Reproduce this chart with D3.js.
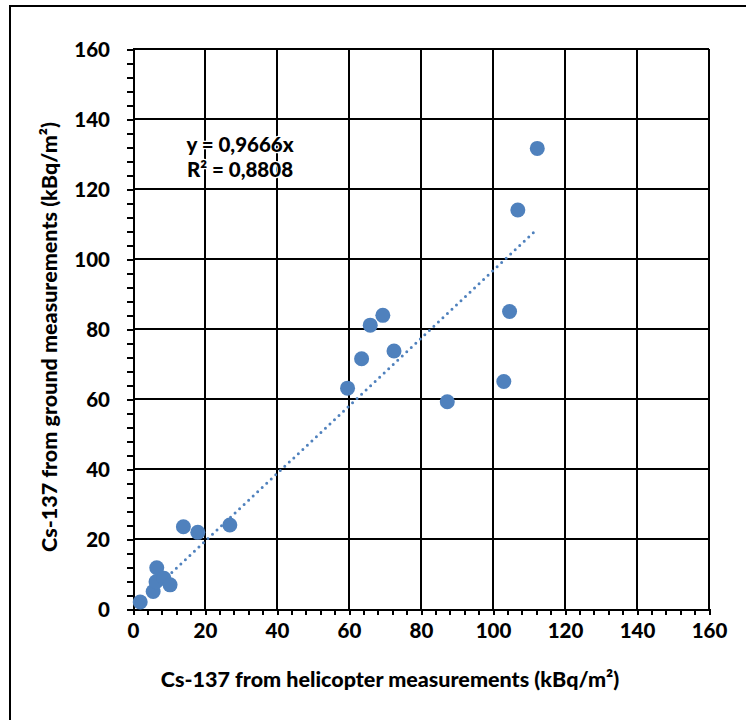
<!doctype html>
<html>

<head>
    <meta charset="utf-8">
    <title>Cs-137</title>
    <style>
    body {
        margin: 0;
        background: #fff;
        font-family: Lato, "Open Sans", sans-serif;
        font-weight: 900;
    }

    .axis path,
    .axis line {
        stroke: #000;
        stroke-width: 2px;
        shape-rendering: crispEdges;
    }

    .axis text {
        font-family: Lato, sans-serif;
        font-weight: 900;
        font-size: 20.5px;
        fill: #000;
    }

    .grid line {
        stroke: #000;
        stroke-width: 2px;
        shape-rendering: crispEdges;
    }

    .dot {
        fill: #4f81bd;
    }

    .trend {
        fill: none;
        stroke: #4f81bd;
        stroke-width: 3px;
        stroke-linecap: round;
        stroke-dasharray: 0 6.2;
    }
    </style>
    <script src="https://cdn.jsdelivr.net/npm/d3@7"></script>
</head>

<body>
    <script>
    // helicopter (x) vs ground (y), kBq/m2
    var heli = [2, 5.6, 6.4, 6.6, 8.6, 10.3, 14, 18, 26.9, 59.6, 63.5, 65.9, 69.4, 72.5, 87.3, 103, 104.6, 106.9, 112.3];
    var ground = [2, 5, 7.8, 11.8, 8.8, 6.9, 23.5, 21.9, 24, 63.1, 71.5, 81.1, 83.9, 73.7, 59.2, 65, 85, 114, 131.6];
    var slope = 0.9666;
    var eqLines = ["y = 0,9666x", "R² = 0,8808"];
    var ticks = [0, 20, 40, 60, 80, 100, 120, 140, 160];
    var minorTicks = d3.range(0, 161, 4);

    var data = heli.map(function(d, i) { return { x: d, y: ground[i] }; });

    var W = 746, H = 720;
    var plotL = 133, plotR = 709, plotT = 49, plotB = 609;

    var x = d3.scaleLinear().domain([0, 160]).range([plotL, plotR]);
    var y = d3.scaleLinear().domain([0, 160]).range([plotB, plotT]);

    var svg = d3.select("body").append("svg")
        .attr("width", W)
        .attr("height", H);

    // outer frame (runs off the right / bottom edge)
    svg.append("rect")
        .attr("x", 10).attr("y", 6)
        .attr("width", W + 20).attr("height", H + 20)
        .attr("fill", "none")
        .attr("stroke", "#000")
        .attr("stroke-width", 2);

    var grid = svg.append("g").attr("class", "grid");
    grid.selectAll(".gx").data(ticks.slice(1)).enter().append("line")
        .attr("x1", function(d) { return x(d); })
        .attr("x2", function(d) { return x(d); })
        .attr("y1", y(0)).attr("y2", y(160));
    grid.selectAll(".gy").data(ticks.slice(1)).enter().append("line")
        .attr("y1", function(d) { return y(d); })
        .attr("y2", function(d) { return y(d); })
        .attr("x1", x(0)).attr("x2", x(160));

    // minor ticks
    svg.append("g")
        .attr("class", "axis")
        .attr("transform", "translate(0," + y(0) + ")")
        .call(d3.axisBottom(x).tickValues(minorTicks).tickSize(6).tickFormat(""))
        .select(".domain").remove();
    svg.append("g")
        .attr("class", "axis")
        .attr("transform", "translate(" + x(0) + ",0)")
        .call(d3.axisLeft(y).tickValues(minorTicks).tickSize(6).tickFormat(""))
        .select(".domain").remove();

    svg.append("g")
        .attr("class", "axis")
        .attr("transform", "translate(0," + y(0) + ")")
        .call(d3.axisBottom(x).tickValues(ticks).tickSize(6).tickSizeOuter(0).tickPadding(8));
    var ya = svg.append("g")
        .attr("class", "axis")
        .attr("transform", "translate(" + x(0) + ",0)")
        .call(d3.axisLeft(y).tickValues(ticks).tickSize(6).tickSizeOuter(0).tickPadding(17));
    ya.selectAll("text").attr("dy", "0.36em");

    // trendline
    var xr = d3.extent(heli);
    svg.append("path")
        .attr("class", "trend")
        .attr("d", d3.line()([[x(xr[0]), y(slope * xr[0])], [x(xr[1]), y(slope * xr[1])]]));

    svg.selectAll(".dot")
        .data(data)
        .enter().append("circle")
        .attr("class", "dot")
        .attr("cx", function(d) { return x(d.x); })
        .attr("cy", function(d) { return y(d.y); })
        .attr("r", 7.5);

    // equation label
    svg.append("g").selectAll("text").data(eqLines).enter().append("text")
        .attr("x", 240)
        .attr("y", function(d, i) { return 152 + i * 25; })
        .attr("text-anchor", "middle")
        .attr("font-size", 20.5)
        .attr("stroke", "#fff").attr("stroke-width", 2.5).attr("paint-order", "stroke")
        .text(function(d) { return d; });

    svg.append("text")
        .attr("x", 390).attr("y", 687)
        .attr("text-anchor", "middle")
        .attr("font-size", 21.5)
        .text("Cs-137 from helicopter measurements (kBq/m²)");

    svg.append("text")
        .attr("transform", "translate(57,337) rotate(-90)")
        .attr("text-anchor", "middle")
        .attr("font-size", 21.5)
        .text("Cs-137 from ground measurements (kBq/m²)");
    </script>
</body>

</html>
